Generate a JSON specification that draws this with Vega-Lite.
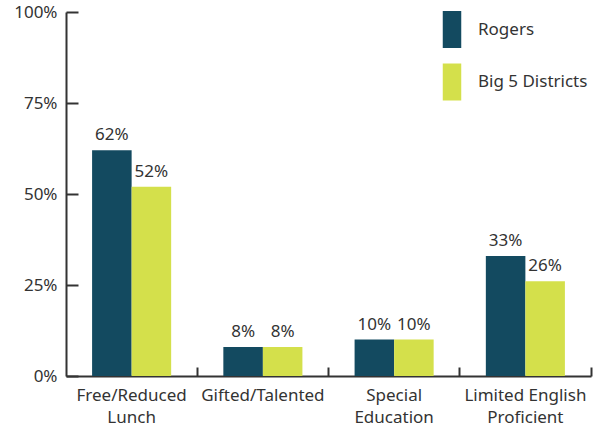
{
  "$schema": "https://vega.github.io/schema/vega-lite/v6.json",
  "width": 525,
  "height": 364,
  "autosize": {"type": "none"},
  "padding": {"left": 66, "top": 12, "right": 11, "bottom": 51},
  "background": "white",
  "config": {
    "view": {"stroke": null},
    "font": "Noto Sans",
    "axis": {"labelFont": "Noto Sans", "labelColor": "#333333", "domainColor": "#333333", "tickColor": "#333333", "domainWidth": 2, "tickWidth": 2, "grid": false, "title": null}
  },
  "data": {
    "values": [
      {"category": "Free/Reduced Lunch", "group": "Rogers", "value": 62},
      {"category": "Free/Reduced Lunch", "group": "Big 5 Districts", "value": 52},
      {"category": "Gifted/Talented", "group": "Rogers", "value": 8},
      {"category": "Gifted/Talented", "group": "Big 5 Districts", "value": 8},
      {"category": "Special Education", "group": "Rogers", "value": 10},
      {"category": "Special Education", "group": "Big 5 Districts", "value": 10},
      {"category": "Limited English Proficient", "group": "Rogers", "value": 33},
      {"category": "Limited English Proficient", "group": "Big 5 Districts", "value": 26}
    ]
  },
  "transform": [{"calculate": "datum.value + '%'", "as": "label"}],
  "encoding": {
    "x": {
      "field": "category", "type": "nominal", "sort": null,
      "scale": {"paddingInner": 0, "paddingOuter": 0},
      "axis": {
        "labelExpr": "datum.value == 'Free/Reduced Lunch' ? ['Free/Reduced', 'Lunch'] : datum.value == 'Special Education' ? ['Special', 'Education'] : datum.value == 'Limited English Proficient' ? ['Limited English', 'Proficient'] : datum.value",
        "labelAngle": 0, "labelFontSize": 17, "labelLineHeight": 22, "labelPadding": 20,
        "tickSize": -9, "bandPosition": 1
      }
    },
    "xOffset": {"field": "group", "type": "nominal", "sort": ["Rogers", "Big 5 Districts"], "scale": {"paddingOuter": 0.66, "paddingInner": 0}},
    "y": {
      "field": "value", "type": "quantitative",
      "scale": {"domain": [0, 100], "nice": false},
      "axis": {"values": [0, 25, 50, 75, 100], "labelExpr": "datum.value + '%'", "labelFontSize": 17, "tickSize": -12, "labelPadding": 21}
    }
  },
  "layer": [
    {
      "mark": {"type": "bar"},
      "encoding": {
        "color": {
          "field": "group", "type": "nominal", "sort": ["Rogers", "Big 5 Districts"],
          "scale": {"domain": ["Rogers", "Big 5 Districts"], "range": ["#134a60", "#d4e04b"]},
          "legend": {
            "title": null, "orient": "none", "legendX": 367.5, "legendY": -1,
            "symbolType": "M-0.5,-1H0.5V1H-0.5Z", "symbolSize": 1369,
            "symbolStrokeWidth": 0, "labelFontSize": 17, "labelColor": "#333333",
            "labelFont": "Noto Sans", "rowPadding": 15.5, "labelOffset": 7.5
          }
        }
      }
    },
    {
      "mark": {"type": "text", "baseline": "alphabetic", "dy": -10, "fontSize": 17, "color": "#333333"},
      "encoding": {"text": {"field": "label", "type": "nominal"}, "detail": {"field": "group"}}
    }
  ]
}
